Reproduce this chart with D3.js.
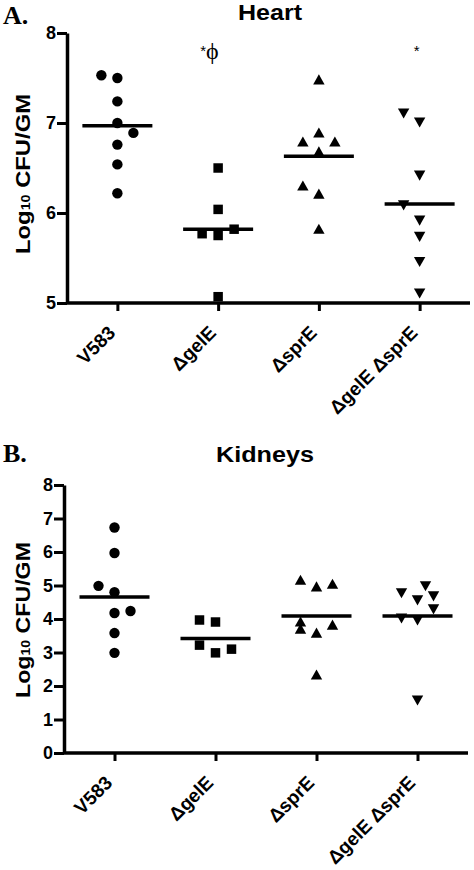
<!DOCTYPE html>
<html>
<head>
<meta charset="utf-8">
<script src="https://cdn.jsdelivr.net/npm/d3@7"></script>
<style>
  html, body { margin: 0; padding: 0; background: #fff; }
  svg { display: block; }
  text { font-family: "Liberation Sans", Arial, sans-serif; font-weight: bold; fill: #000; }
</style>
</head>
<body>
<svg id="chart" width="474" height="870"></svg>
<script>
// ---------- data ----------
const categories = ["V583", "\u0394gelE", "\u0394sprE", "\u0394gelE \u0394sprE"];
const shapes = ["circle", "square", "triangle", "invtriangle"];

// Heart (log10 CFU/GM)
const heartV583   = [7.53, 7.50, 7.24, 7.00, 6.89, 6.76, 6.54, 6.22];
const heartGelE   = [6.50, 6.04, 5.82, 5.77, 5.75, 5.07];
const heartSprE   = [7.48, 6.89, 6.79, 6.79, 6.68, 6.30, 6.21, 5.82];
const heartDouble = [7.11, 7.01, 6.42, 6.09, 5.92, 5.74, 5.46, 5.11];
const heartMedians = [6.97, 5.82, 6.63, 6.10];
// scatter column (dodge slot) of each point
const heartV583Col   = [-1, 0, 0, 0, 1, 0, 0, 0];
const heartGelECol   = [0, 0, 1, -1, 0, 0];
const heartSprECol   = [0, 0, -1, 1, 0, -1, 0, 0];
const heartDoubleCol = [-1, 0, 0, -1, 0, 0, 0, 0];
const heartTicks = [5, 6, 7, 8];
const heartAnnot = [{cat: 1, star: "*", phi: "\u03d5"}, {cat: 3, star: "*", phi: ""}];

// Kidneys (log10 CFU/GM)
const kidV583   = [6.73, 5.97, 4.99, 4.80, 4.24, 4.18, 3.58, 2.99];
const kidGelE   = [3.97, 3.91, 3.22, 3.10, 2.99];
const kidSprE   = [5.16, 5.04, 4.96, 3.91, 3.82, 3.70, 3.58, 2.33];
const kidDouble = [4.99, 4.78, 4.69, 4.57, 4.30, 4.03, 3.97, 1.58];
const kidMedians = [4.66, 3.42, 4.09, 4.09];
const kidV583Col   = [0, 0, -1, 0, 1, 0, 0, 0];
const kidGelECol   = [-1, 0, -1, 1, 0];
const kidSprECol   = [-1, 1, 0, -1, 1, -1, 0, 0];
const kidDoubleCol = [0.5, -1, 1, 0, 1, -1, 0, 0];
const kidTicks = [0, 1, 2, 3, 4, 5, 6, 7, 8];

// ---------- drawing ----------
const svg = d3.select("#chart");

function symbolPath(shape) {
  if (shape === "circle") return d3.symbol().type(d3.symbolCircle).size(85)();
  if (shape === "square") return d3.symbol().type(d3.symbolSquare).size(90)();
  if (shape === "triangle") return "M0,-5.5L5.7,4.6L-5.7,4.6Z";
  return "M0,5.5L5.7,-4.6L-5.7,-4.6Z";
}

function drawPanel(cfg) {
  const g = svg.append("g");
  const x = d3.scalePoint().domain(categories).range([cfg.x0, cfg.x1]).padding(0.5);
  const y = d3.scaleLinear().domain(cfg.domain).range([cfg.yb, cfg.yt]);

  // panel letter and title
  g.append("text").attr("x", 3).attr("y", cfg.letterY)
    .style("font-family", "'Liberation Serif', 'Times New Roman', serif")
    .style("font-size", "26px").text(cfg.letter);
  g.append("text").attr("x", cfg.titleX).attr("y", cfg.titleY)
    .attr("text-anchor", "middle").style("font-size", "22px")
    .attr("textLength", cfg.titleLen).attr("lengthAdjust", "spacingAndGlyphs")
    .text(cfg.title);

  // y axis
  const yAxis = d3.axisLeft(y).tickValues(cfg.ticks).tickFormat(d3.format("d"))
    .tickSize(10).tickPadding(1).tickSizeOuter(0);
  const ya = g.append("g").attr("transform", `translate(${cfg.x0},0)`).call(yAxis);
  ya.select(".domain").attr("stroke", "#000").attr("stroke-width", 3.5);
  ya.selectAll(".tick line").attr("stroke", "#000").attr("stroke-width", 3);
  ya.selectAll(".tick text").style("font-size", "18px")
    .style("font-family", "'Liberation Sans', Arial, sans-serif").style("font-weight", "bold");

  // x axis
  const xAxis = d3.axisBottom(x).tickSize(8).tickSizeOuter(0).tickFormat("");
  const xa = g.append("g").attr("transform", `translate(0,${cfg.yb})`).call(xAxis);
  xa.select(".domain").attr("stroke", "#000").attr("stroke-width", 3.5)
    .attr("d", `M${cfg.x0 - 1},0H${cfg.x1}`);
  xa.selectAll(".tick line").attr("stroke", "#000").attr("stroke-width", 3);

  // rotated category labels
  g.selectAll(".xlab").data(categories).join("text")
    .attr("class", "xlab")
    .attr("text-anchor", "end")
    .style("font-size", "19px")
    .attr("transform", d => `translate(${x(d) - 1},${cfg.yb + 31}) rotate(-45)`)
    .text(d => d);

  // y label
  const yl = g.append("text")
    .attr("transform", `translate(${cfg.ylabX},${cfg.ylabY}) rotate(-90)`)
    .attr("text-anchor", "middle").style("font-size", "20px")
    .attr("textLength", cfg.ylabLen).attr("lengthAdjust", "spacingAndGlyphs");
  yl.append("tspan").text("Log");
  yl.append("tspan").style("font-size", "12px").text("10");
  yl.append("tspan").text(" CFU/GM");

  // points
  cfg.series.forEach((vals, i) => {
    const cat = categories[i];
    const cols = cfg.cols[i];
    g.selectAll(null).data(vals.map((v, j) => ({v, c: cols[j]}))).join("path")
      .attr("d", symbolPath(shapes[i]))
      .attr("fill", "#000")
      .attr("transform", d => `translate(${x(cat) + d.c * cfg.dodge},${y(d.v)})`);
  });

  // medians
  g.selectAll(null).data(cfg.medians).join("line")
    .attr("x1", (d, i) => x(categories[i]) - 35)
    .attr("x2", (d, i) => x(categories[i]) + 35)
    .attr("y1", d => y(d)).attr("y2", d => y(d))
    .attr("stroke", "#000").attr("stroke-width", 3.5);

  // annotations
  (cfg.annot || []).forEach(a => {
    const cx = x(categories[a.cat]);
    const t = g.append("text").attr("x", cx - 18 + (a.phi ? 0 : 12)).attr("y", y(cfg.annotY))
      .style("font-weight", "normal");
    t.append("tspan").style("font-size", "15px").text(a.star);
    if (a.phi) {
      t.append("tspan").attr("dy", 3)
        .style("font-family", "'Liberation Serif', 'Times New Roman', serif")
        .style("font-size", "24px").text(a.phi);
    }
  });
}

drawPanel({
  letter: "A.", letterY: 24, title: "Heart", titleX: 270, titleY: 20, titleLen: 64,
  x0: 67, x1: 470, yt: 33, yb: 303, domain: [5, 8], ticks: heartTicks,
  ylabX: 30, ylabY: 174, ylabLen: 160,
  series: [heartV583, heartGelE, heartSprE, heartDouble],
  cols: [heartV583Col, heartGelECol, heartSprECol, heartDoubleCol],
  medians: heartMedians, dodge: 16,
  annot: heartAnnot, annotY: 7.74
});

drawPanel({
  letter: "B.", letterY: 462, title: "Kidneys", titleX: 265, titleY: 462, titleLen: 98,
  x0: 64, x1: 468, yt: 485, yb: 753, domain: [0, 8], ticks: kidTicks,
  ylabX: 30, ylabY: 620, ylabLen: 156,
  series: [kidV583, kidGelE, kidSprE, kidDouble],
  cols: [kidV583Col, kidGelECol, kidSprECol, kidDoubleCol],
  medians: kidMedians, dodge: 16
});
</script>
</body>
</html>
